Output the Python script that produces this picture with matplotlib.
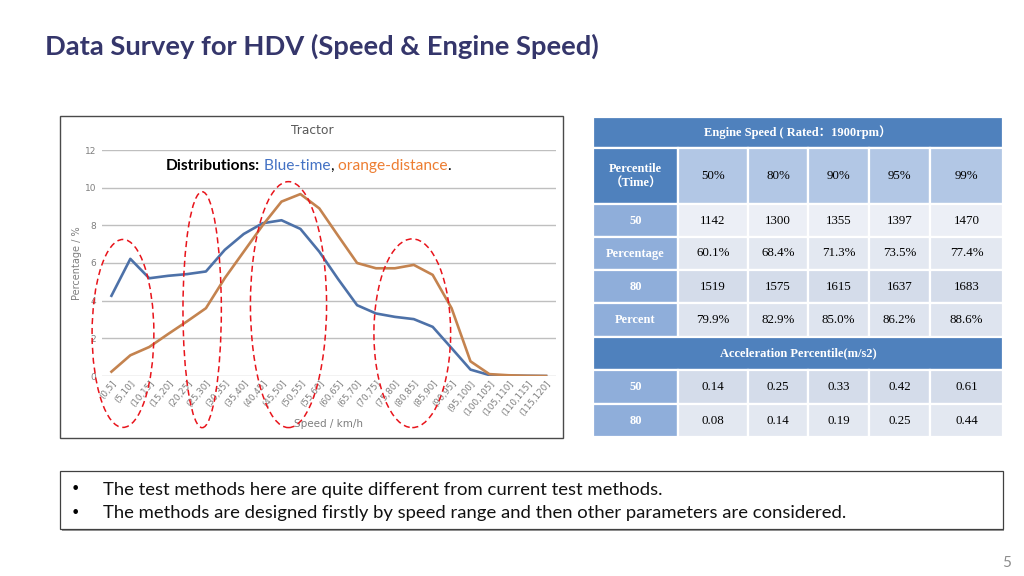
import matplotlib
matplotlib.use("Agg")
import matplotlib.pyplot as plt
from matplotlib.patches import Rectangle, Ellipse

# chart data
speed_bins = ['(0,5]', '(5,10]', '(10,15]', '(15,20]', '(20,25]', '(25,30]', '(30,35]',
              '(35,40]', '(40,45]', '(45,50]', '(50,55]', '(55,60]', '(60,65]', '(65,70]',
              '(70,75]', '(75,80]', '(80,85]', '(85,90]', '(90,95]', '(95,100]',
              '(100,105]', '(105,110]', '(110,115]', '(115,120]']
time_pct = [4.26, 6.22, 5.19, 5.32, 5.41, 5.55, 6.7, 7.54, 8.11, 8.27, 7.81, 6.6,
            5.14, 3.76, 3.32, 3.14, 3.02, 2.61, 1.48, 0.34, 0.05, 0.02, 0.01, 0.0]
dist_pct = [0.23, 1.1, 1.54, 2.23, 2.9, 3.6, 5.2, 6.6, 8.0, 9.26, 9.66, 8.9,
            7.44, 6.0, 5.72, 5.72, 5.9, 5.37, 3.6, 0.78, 0.1, 0.04, 0.01, 0.0]
yticks = [0, 2, 4, 6, 8, 10, 12]

# highlighted ranges (centre x, centre y, width, height) in data units
circles = [(0.61, 2.26, 3.27, 9.98), (4.8, 3.52, 2.03, 12.53),
           (9.37, 3.79, 4.03, 13.06), (15.92, 2.27, 4.06, 10.02)]

# table data
pct_cols = ['50%', '80%', '90%', '95%', '99%']
eng_rows = ['50', 'Percentage', '80', 'Percent']
eng_vals = [['1142', '1300', '1355', '1397', '1470'],
            ['60.1%', '68.4%', '71.3%', '73.5%', '77.4%'],
            ['1519', '1575', '1615', '1637', '1683'],
            ['79.9%', '82.9%', '85.0%', '86.2%', '88.6%']]
acc_rows = ['50', '80']
acc_vals = [['0.14', '0.25', '0.33', '0.42', '0.61'],
            ['0.08', '0.14', '0.19', '0.25', '0.44']]

bullets = ['The test methods here are quite different from current test methods.',
           'The methods are designed firstly by speed range and then other parameters are considered.']

W, H = 1024, 576
fig = plt.figure(figsize=(W / 100, H / 100), dpi=100)
fig.patch.set_facecolor('white')

# overlay in pixel coords for boxes/table
ov = fig.add_axes([0, 0, 1, 1])
ov.set_xlim(0, W)
ov.set_ylim(H, 0)
ov.axis('off')
ov.patch.set_alpha(0)

ov.text(45, 46, 'Data Survey for HDV (Speed & Engine Speed)', fontsize=19.7, fontweight='bold',
        color='#35366B', family='Lato', va='center', ha='left')

# chart frame
ov.add_patch(Rectangle((60, 116), 503, 322, fill=False, ec='#4a4a4a', lw=1.0))
ov.text(312, 131, 'Tractor', fontsize=8.8, color='#595959', ha='center', va='center', family='DejaVu Sans')

# chart axes
ax = fig.add_axes([102 / W, 1 - 376 / H, 453.5 / W, 226 / H])
x = list(range(len(speed_bins)))
ax.plot(x, time_pct, color='#4D71A8', lw=1.9, zorder=3)
ax.plot(x, dist_pct, color='#C4834F', lw=1.9, zorder=3)
ax.set_xlim(-0.5, len(speed_bins) - 0.5)
ax.set_ylim(0, 12)
ax.set_yticks(yticks)
ax.set_yticklabels([str(v) for v in yticks], fontsize=6.5, color='#7f7f7f')
ax.set_xticks(x)
ax.set_xticklabels(speed_bins, rotation=50, ha='right', rotation_mode='anchor',
                   fontsize=6.3, color='#7f7f7f')
ax.tick_params(axis='x', length=0, pad=2)
ax.tick_params(axis='y', length=0, pad=4)
ax.grid(axis='y', color='#BFBFBF', lw=1.0)
ax.set_axisbelow(True)
for s in ax.spines.values():
    s.set_visible(False)
ax.set_ylabel('Percentage / %', fontsize=7, color='#7f7f7f', labelpad=2)
ax.set_xlabel('Speed / km/h', fontsize=7.5, color='#7f7f7f', labelpad=0)
ax.xaxis.set_label_coords(0.5, -0.19)

for cx, cy, w, h in circles:
    ax.add_patch(Ellipse((cx, cy), w, h, fill=False, ec='#E8141B', lw=1.1,
                         ls=(0, (4, 2.5)), clip_on=False, zorder=4))

# multicolour caption
t = ax.text(0.14, 0.93, 'Distributions:', transform=ax.transAxes, fontsize=11.2,
            fontweight='bold', family='Lato', color='black', va='center')
parts = [(' Blue-time', '#4472C4'), (',', 'black'), (' orange-distance', '#ED7D31'), ('.', 'black')]
for txt, col in parts:
    t = ax.annotate(txt, xy=(1, 0), xycoords=t, va='bottom', ha='left', fontsize=11.2,
                    family='Lato', color=col)

# table
col_x = [593, 678, 748, 808, 869, 930, 1003]
row_y = [117, 148, 204, 237, 270, 303, 337, 370, 404, 437]
hdr = '#4F81BD'
side = '#8FAEDA'
top_cells = '#B2C7E5'
body = ['#ECEFF6', '#E3E8F1', '#D4DCEA', '#DEE4EF']
acc_body = ['#D4DCEA', '#E3E8F1']
serif = ['Liberation Serif', 'Noto Sans CJK SC']


def cell(x0, x1, y0, y1, color, txt=None, bold=False, tc='black', fs=9):
    ov.add_patch(Rectangle((x0, y0), x1 - x0, y1 - y0, fc=color, ec='white', lw=1.6))
    if txt:
        ov.text((x0 + x1) / 2, (y0 + y1) / 2, txt, ha='center', va='center', fontsize=fs,
                color=tc, fontweight='bold' if bold else 'normal', family=serif,
                linespacing=1.3)


cell(col_x[0], col_x[-1], row_y[0], row_y[1], hdr, 'Engine Speed ( Rated：1900rpm）', True, 'white', 9)
cell(col_x[0], col_x[1], row_y[1], row_y[2], hdr, 'Percentile\n（Time）', True, 'white', 9)
for j, c in enumerate(pct_cols):
    cell(col_x[j + 1], col_x[j + 2], row_y[1], row_y[2], top_cells, c, fs=9.3)
for i, r in enumerate(eng_rows):
    cell(col_x[0], col_x[1], row_y[2 + i], row_y[3 + i], side, r, True, 'white', 9)
    for j, v in enumerate(eng_vals[i]):
        cell(col_x[j + 1], col_x[j + 2], row_y[2 + i], row_y[3 + i], body[i], v, fs=9.3)
cell(col_x[0], col_x[-1], row_y[6], row_y[7], hdr, 'Acceleration Percentile(m/s2)', True, 'white', 9)
for i, r in enumerate(acc_rows):
    cell(col_x[0], col_x[1], row_y[7 + i], row_y[8 + i], side, r, True, 'white', 9)
    for j, v in enumerate(acc_vals[i]):
        cell(col_x[j + 1], col_x[j + 2], row_y[7 + i], row_y[8 + i], acc_body[i], v, fs=9.3)

# bullet box
ov.add_patch(Rectangle((62, 473), 942, 58, fc='#9a9a9a', ec='none'))
ov.add_patch(Rectangle((60, 471), 943, 58, fc='white', ec='#404040', lw=0.9))
for k, b in enumerate(bullets):
    yy = 490 + 23 * k
    ov.text(75, yy, '•', fontsize=11.5, ha='center', va='center', family='DejaVu Sans')
    ov.text(103, yy, b, fontsize=13.3, ha='left', va='center', family='Lato', color='#111111')

ov.text(1007, 563, '5', fontsize=11, color='#8c8c8c', ha='center', va='center', family='Lato')

fig.savefig('out.png', dpi=100)
